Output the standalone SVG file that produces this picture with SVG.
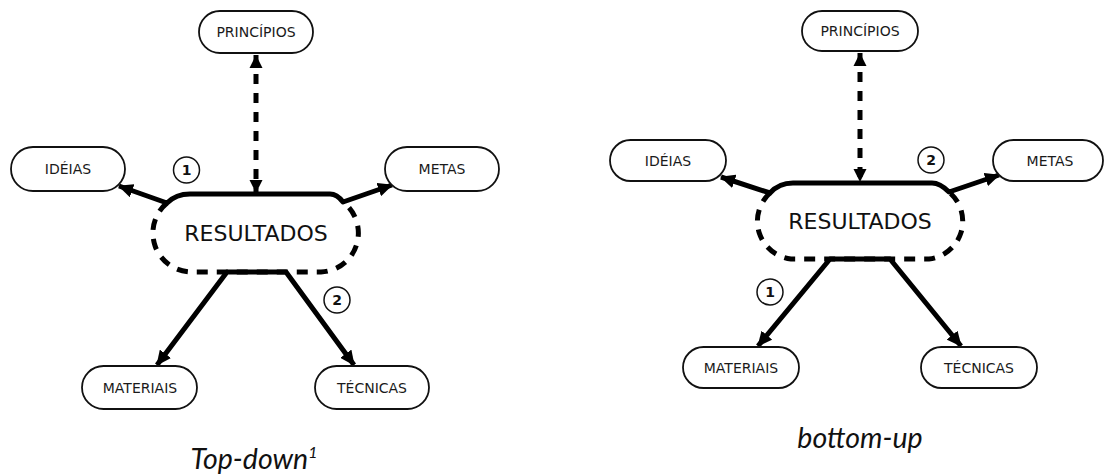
<svg xmlns="http://www.w3.org/2000/svg" width="1105" height="476" viewBox="0 0 1105 476">
<style>
.node rect{fill:#fff;stroke:#111;stroke-width:1.8}
.lbl{font-family:"DejaVu Sans",sans-serif;font-size:14px;fill:#1a1a1a;text-anchor:middle;dominant-baseline:central}
.big{font-family:"DejaVu Sans",sans-serif;font-size:22px;fill:#111;text-anchor:middle;dominant-baseline:central}
.solid{fill:none;stroke:#000;stroke-width:5;stroke-linejoin:round}
.dash{fill:none;stroke:#000;stroke-width:5;stroke-dasharray:11 9}
.vdash{fill:none;stroke:#000;stroke-width:5;stroke-dasharray:10 9}
.num circle{fill:#fff;stroke:#111;stroke-width:1.5}
.num text{font-family:"DejaVu Sans",sans-serif;font-weight:bold;font-size:14px;fill:#111;text-anchor:middle;dominant-baseline:central}
.cap{font-family:Lato,"Open Sans",sans-serif;font-style:italic;font-size:28.5px;fill:#111;text-anchor:middle}
</style>
<defs>
<marker id="ah" markerUnits="userSpaceOnUse" markerWidth="16" markerHeight="14" refX="14" refY="7" orient="auto-start-reverse" viewBox="0 0 16 14">
<path d="M0,0 L15,7 L0,14 Z" fill="#000"/>
</marker>
<marker id="tri" markerUnits="userSpaceOnUse" markerWidth="14" markerHeight="14" refX="13" refY="6.5" orient="auto-start-reverse" viewBox="0 0 14 13">
<path d="M0,0 L13,6.5 L0,13 Z" fill="#000"/>
</marker>
</defs>

<!-- LEFT: Top-down -->
<g id="connectors-left">
<path class="dash" d="M167,203 A39,39 0 0 0 191,272 L321,272 A39,39 0 0 0 343,202"/>
<path class="solid" d="M119,186 L167,203 Q176,194 190,194 L330,194 Q337,194 343,202 L392,185" marker-start="url(#ah)" marker-end="url(#ah)"/>
<path class="solid" d="M157,365 L227,272 L286,272 L354,365" stroke-linejoin="miter" marker-start="url(#ah)" marker-end="url(#ah)"/>
<line class="vdash" x1="256" y1="55" x2="256" y2="193" marker-start="url(#tri)" marker-end="url(#tri)"/>
</g>
<g id="resultados-left"><text class="big" x="256" y="233">RESULTADOS</text></g>
<g id="principios-left" class="node"><rect x="199" y="11" width="114" height="42" rx="21"/><text class="lbl" x="256" y="32">PRINCÍPIOS</text></g>
<g id="ideias-left" class="node"><rect x="11" y="147" width="114" height="44" rx="22"/><text class="lbl" x="68" y="169">IDÉIAS</text></g>
<g id="metas-left" class="node"><rect x="385" y="147" width="114" height="44" rx="22"/><text class="lbl" x="442" y="169">METAS</text></g>
<g id="materiais-left" class="node"><rect x="82" y="366" width="115" height="43" rx="21.5"/><text class="lbl" x="140" y="388">MATERIAIS</text></g>
<g id="tecnicas-left" class="node"><rect x="315" y="366" width="114" height="43" rx="21.5"/><text class="lbl" x="372" y="388">TÉCNICAS</text></g>
<g id="num1-left" class="num"><circle cx="186.5" cy="170" r="13"/><text x="186.5" y="170">1</text></g>
<g id="num2-left" class="num"><circle cx="337" cy="300" r="13"/><text x="337" y="300">2</text></g>
<text class="cap" x="254" y="469">Top-down<tspan font-size="16" dy="-11">1</tspan></text>

<!-- RIGHT: bottom-up -->
<g id="connectors-right">
<path class="dash" d="M770,193 A38,38 0 0 0 791,259 L929,259 A38,38 0 0 0 949,192"/>
<path class="solid" d="M721,177 L770,193 Q779,183 793,183 L932,183 Q940,183 949,192 L999,175" marker-start="url(#ah)" marker-end="url(#ah)"/>
<path class="solid" d="M758,346 L830,259 L890,259 L961,346" stroke-linejoin="miter" marker-start="url(#ah)" marker-end="url(#ah)"/>
<line class="vdash" x1="860" y1="53" x2="860" y2="182" marker-start="url(#tri)" marker-end="url(#tri)"/>
</g>
<g id="resultados-right"><text class="big" x="860" y="221">RESULTADOS</text></g>
<g id="principios-right" class="node"><rect x="802" y="11" width="116" height="40" rx="20"/><text class="lbl" x="860" y="31">PRINCÍPIOS</text></g>
<g id="ideias-right" class="node"><rect x="610" y="140" width="116" height="41" rx="20.5"/><text class="lbl" x="668" y="160.5">IDÉIAS</text></g>
<g id="metas-right" class="node"><rect x="993" y="140" width="110" height="41" rx="20.5"/><text class="lbl" x="1050" y="160.5">METAS</text></g>
<g id="materiais-right" class="node"><rect x="683" y="347" width="116" height="41" rx="20.5"/><text class="lbl" x="741" y="367.5">MATERIAIS</text></g>
<g id="tecnicas-right" class="node"><rect x="921" y="347" width="116" height="41" rx="20.5"/><text class="lbl" x="979" y="367.5">TÉCNICAS</text></g>
<g id="num1-right" class="num"><circle cx="770" cy="292" r="13"/><text x="770" y="292">1</text></g>
<g id="num2-right" class="num"><circle cx="931" cy="160" r="13"/><text x="931" y="160">2</text></g>
<text class="cap" x="860" y="448">bottom-up</text>
</svg>
